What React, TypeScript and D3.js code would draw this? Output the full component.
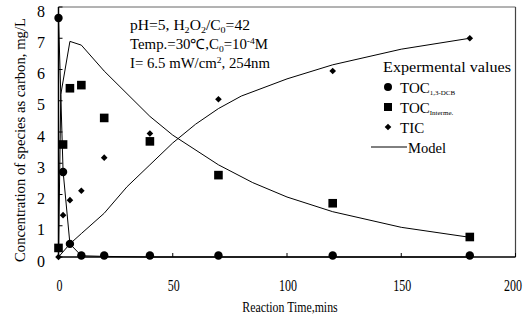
import React from "react";
import * as d3 from "d3";

// Sampling times (min) of the experimental measurements
const times = [0, 2, 5, 10, 20, 40, 70, 120, 180];
// Experimental values, mg/L as carbon
const tocDcb = [7.65, 2.72, 0.42, 0.05, 0.05, 0.05, 0.05, 0.05, 0.05];
const tocInterm = [0.29, 3.6, 5.4, 5.5, 4.45, 3.7, 2.62, 1.72, 0.64];
const tic = [0, 1.34, 1.82, 2.12, 3.18, 3.95, 5.05, 5.95, 7.0];

// Model curves: [time, concentration]
const modelDcb: [number, number][] = [
  [0, 7.65], [2, 2.75], [5, 0.42], [10, 0.04], [20, 0.02], [40, 0], [180, 0],
];
const modelInterm: [number, number][] = [
  [0, 0], [1, 5.2], [5, 6.9], [10, 6.78], [20, 5.95], [40, 4.5], [50, 3.9],
  [70, 2.95], [85, 2.38], [100, 1.92], [120, 1.45], [150, 0.95], [180, 0.63],
];
const modelTic: [number, number][] = [
  [0, 0], [5, 0.42], [10, 0.75], [20, 1.4], [30, 2.25], [40, 2.95], [50, 3.65],
  [60, 4.25], [70, 4.75], [80, 5.15], [100, 5.7], [120, 6.15], [150, 6.65], [180, 7.0],
];

const xTicks = [0, 50, 100, 150, 200];
const yTicks = [0, 1, 2, 3, 4, 5, 6, 7, 8];

const W = 527;
const H = 324;
const FONT = "'Liberation Serif', 'Times New Roman', serif";

export default function App() {
  const x = d3.scaleLinear().domain([0, 200]).range([58.5, 515.5]);
  const y = d3.scaleLinear().domain([0, 8]).range([257, 7]);
  const line = d3
    .line<[number, number]>()
    .x((d) => x(d[0]))
    .y((d) => y(d[1]));

  const diamond = (cx: number, cy: number, r: number) =>
    `M${cx},${cy - r}L${cx + r},${cy}L${cx},${cy + r}L${cx - r},${cy}Z`;

  return (
    <svg
      width={W}
      height={H}
      style={{ position: "absolute", left: 0, top: 0, background: "#fff" }}
      fontFamily={FONT}
    >
      <rect width={W} height={H} fill="#fff" />

      {/* frame */}
      <line x1={x(0)} x2={x(200)} y1={y(8)} y2={y(8)} stroke="#666" strokeWidth={1} />
      <line x1={x(200)} x2={x(200)} y1={y(8)} y2={y(0)} stroke="#444" strokeWidth={1.2} />
      <line x1={x(0)} x2={x(200)} y1={y(0)} y2={y(0)} stroke="#000" strokeWidth={1.5} />
      <line x1={x(0)} x2={x(0)} y1={y(8)} y2={y(0)} stroke="#000" strokeWidth={1.5} />

      {/* y ticks */}
      {yTicks.map((t) => (
        <g key={"yt" + t}>
          <line x1={x(0)} x2={x(0) + 4} y1={y(t)} y2={y(t)} stroke="#000" strokeWidth={1} />
          <text x={45} y={y(t) + 4} dy="0.35em" textAnchor="end" fontSize={16}>
            {t}
          </text>
        </g>
      ))}

      {/* x ticks (condensed serif digits) */}
      {xTicks.map((t) => (
        <g key={"xt" + t}>
          <line x1={x(t)} x2={x(t)} y1={y(0)} y2={y(0) - 4} stroke="#000" strokeWidth={1} />
          <text
            transform={`translate(${t === 200 ? 513 : x(t) + 1},285) scale(0.75,1)`}
            dy="0.35em"
            textAnchor="middle"
            fontSize={16}
          >
            {t}
          </text>
        </g>
      ))}

      {/* axis titles */}
      <text transform="translate(290,307) scale(0.79,1)" dy="0.35em" textAnchor="middle" fontSize={15}>
        Reaction Time,mins
      </text>
      <text transform="translate(20,140) rotate(-90)" dy="0.35em" textAnchor="middle" fontSize={15}
        textLength={244} lengthAdjust="spacingAndGlyphs">
        Concentration of species as carbon, mg/L
      </text>

      {/* model curves */}
      {[modelDcb, modelInterm, modelTic].map((m, i) => (
        <path key={"m" + i} d={line(m) || ""} fill="none" stroke="#000" strokeWidth={1} />
      ))}

      {/* experimental points */}
      {times.map((t, i) => (
        <circle key={"c" + i} cx={x(t)} cy={y(tocDcb[i])} r={4.2} fill="#000" />
      ))}
      {times.map((t, i) => (
        <rect key={"s" + i} x={x(t) - 4.3} y={y(tocInterm[i]) - 4.3} width={8.6} height={8.6} fill="#000" />
      ))}
      {times.map((t, i) => (
        <path key={"d" + i} d={diamond(x(t), y(tic[i]), 3.3)} fill="#000" />
      ))}

      {/* conditions */}
      <g fontSize={14}>
        <text x={130} y={25} dy="0.35em" textLength={120} lengthAdjust="spacingAndGlyphs">
          pH=5, H<tspan fontSize={9} dy={3}>2</tspan><tspan dy={-3}>O</tspan>
          <tspan fontSize={9} dy={3}>2</tspan><tspan dy={-3}>/C</tspan>
          <tspan fontSize={9} dy={3}>0</tspan><tspan dy={-3}>=42</tspan>
        </text>
        <text x={130} y={44} dy="0.35em" textLength={138} lengthAdjust="spacingAndGlyphs">
          Temp.=30℃,C<tspan fontSize={9} dy={3}>0</tspan><tspan dy={-3}>=10</tspan>
          <tspan fontSize={9} dy={-5}>-4</tspan><tspan dy={5}>M</tspan>
        </text>
        <text x={130} y={63} dy="0.35em" textLength={140} lengthAdjust="spacingAndGlyphs">
          I= 6.5 mW/cm<tspan fontSize={9} dy={-5}>2</tspan><tspan dy={5}>, 254nm</tspan>
        </text>
      </g>

      {/* legend */}
      <g fontSize={15}>
        <text x={383} y={67} dy="0.35em" textLength={128} lengthAdjust="spacingAndGlyphs">
          Expermental values
        </text>
        <circle cx={388} cy={87} r={4} fill="#000" />
        <text x={400} y={88} dy="0.35em" fontSize={15}>
          TOC<tspan fontSize={7} dy={2}>1,3-DCB</tspan>
        </text>
        <rect x={384} y={103} width={8} height={8} fill="#000" />
        <text x={400} y={108} dy="0.35em" fontSize={15}>
          TOC<tspan fontSize={7} dy={2}>Interme.</tspan>
        </text>
        <path d={diamond(388, 127, 3.3)} fill="#000" />
        <text x={400} y={128} dy="0.35em" fontSize={15}>TIC</text>
        <line x1={371} x2={407} y1={147} y2={147} stroke="#000" strokeWidth={1} />
        <text x={408} y={148} dy="0.35em" fontSize={15} textLength={38} lengthAdjust="spacingAndGlyphs">Model</text>
      </g>
    </svg>
  );
}
